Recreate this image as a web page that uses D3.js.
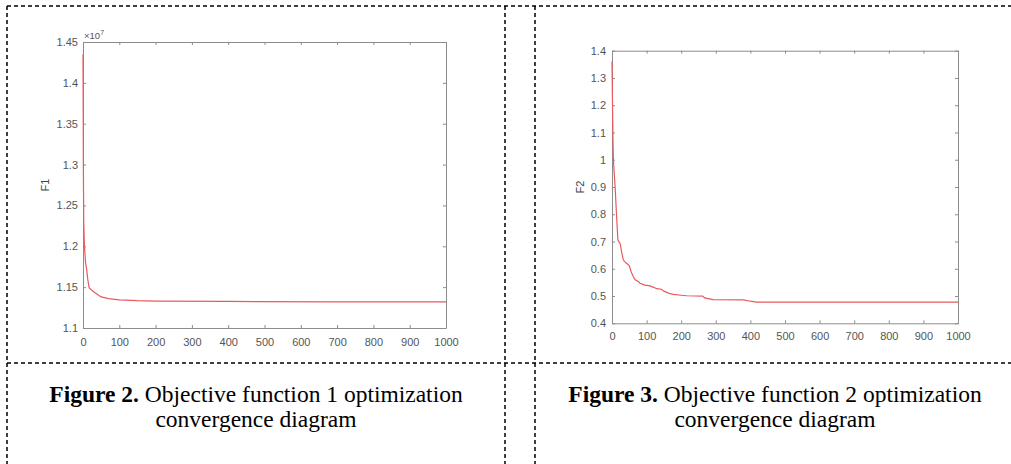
<!DOCTYPE html>
<html>
<head>
<meta charset="utf-8">
<script src="https://cdn.jsdelivr.net/npm/d3@7"></script>
<style>
  body { margin: 0; background: #fff; }
  svg { display: block; }
</style>
</head>
<body>
<script>
// x ticks shared by both panels
var xTicks = [0, 100, 200, 300, 400, 500, 600, 700, 800, 900, 1000];

// Figure 2: F1 (x 10^7) vs iteration
var iter1 = [0, 1, 2, 4, 7, 10, 13, 17, 30, 50, 70, 100, 150, 200, 400, 700, 1000];
var f1 = [1.435, 1.30, 1.23, 1.20, 1.18, 1.172, 1.16, 1.149, 1.144, 1.138, 1.136, 1.1345, 1.1335, 1.133, 1.1325, 1.132, 1.132];
var yTicks1 = [1.1, 1.15, 1.2, 1.25, 1.3, 1.35, 1.4, 1.45];

// Figure 3: F2 vs iteration
var iter2 = [0, 1, 2, 3, 4, 9, 13, 17, 20, 24, 28, 33, 40, 50, 55, 62, 67, 75, 81, 95, 110, 120, 129, 143, 150, 165, 177, 200, 216, 262, 268, 292, 380, 400, 418, 1000];
var f2 = [1.36, 1.25, 1.15, 1.06, 1.0, 0.9, 0.8, 0.705, 0.70, 0.69, 0.66, 0.632, 0.622, 0.612, 0.59, 0.57, 0.56, 0.554, 0.547, 0.54, 0.537, 0.532, 0.527, 0.525, 0.518, 0.51, 0.506, 0.503, 0.501, 0.500, 0.493, 0.487, 0.486, 0.481, 0.478, 0.478];
var yTicks2 = [0.4, 0.5, 0.6, 0.7, 0.8, 0.9, 1.0, 1.1, 1.2, 1.3, 1.4];

var captions = [
  {bold: "Figure 2.", rest: " Objective function 1 optimization", line2: "convergence diagram", cx: 256},
  {bold: "Figure 3.", rest: " Objective function 2 optimization", line2: "convergence diagram", cx: 775}
];

var W = 1011, H = 464;
var svg = d3.select("body").append("svg")
  .attr("width", W)
  .attr("height", H);

svg.append("rect").attr("width", W).attr("height", H).attr("fill", "#fff");

// dashed frame
var dash = svg.append("g")
  .attr("stroke", "#000")
  .attr("stroke-width", 1.5)
  .attr("stroke-dasharray", "4,3");
dash.append("line").attr("x1", 7).attr("x2", W).attr("y1", 6).attr("y2", 6);
dash.append("line").attr("x1", 7).attr("x2", W).attr("y1", 363).attr("y2", 363);
[7, 505, 535].forEach(function(x) {
  dash.append("line").attr("x1", x).attr("x2", x).attr("y1", 6).attr("y2", H);
});

var axisColor = "#8c8c8c", textColor = "#555";

function panel(opts) {
  var x = d3.scaleLinear().domain([0, 1000]).range([opts.left, opts.right]);
  var y = d3.scaleLinear().domain(opts.yDomain).range([opts.bottom, opts.top]);
  var g = svg.append("g");

  function style(sel) {
    sel.select(".domain").attr("stroke", axisColor);
    sel.selectAll(".tick line").attr("stroke", axisColor);
    sel.selectAll("text")
      .attr("fill", textColor)
      .style("font-family", "'Liberation Sans', Arial, sans-serif")
      .style("font-size", "11px");
  }

  g.append("g").attr("transform", "translate(0," + opts.bottom + ")")
    .call(d3.axisBottom(x).tickValues(xTicks).tickSizeInner(-3).tickSizeOuter(0).tickPadding(opts.xPad).tickFormat(d3.format("d")))
    .call(style);
  g.append("g").attr("transform", "translate(0," + opts.top + ")")
    .call(d3.axisTop(x).tickValues(xTicks).tickSizeInner(-3).tickSizeOuter(0).tickFormat(""))
    .call(style);
  g.append("g").attr("transform", "translate(" + opts.left + ",0)")
    .call(d3.axisLeft(y).tickValues(opts.yTicks).tickSizeInner(-3).tickSizeOuter(0).tickPadding(opts.yPad).tickFormat(d3.format("~g")))
    .call(style);
  g.append("g").attr("transform", "translate(" + opts.right + ",0)")
    .call(d3.axisRight(y).tickValues(opts.yTicks).tickSizeInner(-3).tickSizeOuter(0).tickFormat(""))
    .call(style);
  g.selectAll(".domain").attr("fill", "none");

  var line = d3.line()
    .x(function(d) { return x(d[0]); })
    .y(function(d) { return y(d[1]); });
  g.append("path")
    .datum(d3.zip(opts.iters, opts.values))
    .attr("fill", "none")
    .attr("stroke", "#e85a5e")
    .attr("stroke-width", 1.2)
    .attr("d", line);

  g.append("text")
    .attr("transform", "translate(" + opts.labelX + "," + ((opts.top + opts.bottom) / 2) + ") rotate(-90)")
    .attr("text-anchor", "middle")
    .attr("fill", "#444")
    .style("font-family", "'Liberation Sans', Arial, sans-serif")
    .style("font-size", "11px")
    .text(opts.label);
  return g;
}

var g1 = panel({left: 83, right: 446, top: 42, bottom: 328, yDomain: [1.1, 1.45], yTicks: yTicks1,
  iters: iter1, values: f1, label: "F1", labelX: 49, xPad: 10, yPad: 5});
var g2 = panel({left: 612, right: 958, top: 50.7, bottom: 323.3, yDomain: [0.4, 1.4], yTicks: yTicks2,
  iters: iter2, values: f2, label: "F2", labelX: 584, xPad: 8.5, yPad: 6});

// exponent label
var ex = g1.append("text")
  .attr("x", 84).attr("y", 39)
  .attr("fill", textColor)
  .style("font-family", "'Liberation Sans', Arial, sans-serif")
  .style("font-size", "9.5px");
ex.append("tspan").text("\u00d710");
ex.append("tspan").attr("dy", -4).style("font-size", "7px").text("7");

// captions, centred in their table cells
captions.forEach(function(c) {
  var t1 = svg.append("text")
    .attr("x", c.cx).attr("y", 402)
    .attr("text-anchor", "middle")
    .style("font-family", "'Liberation Serif', 'Times New Roman', serif")
    .style("font-size", "23.5px");
  t1.append("tspan").style("font-weight", "bold").text(c.bold);
  t1.append("tspan").text(c.rest);
  svg.append("text")
    .attr("x", c.cx).attr("y", 427)
    .attr("text-anchor", "middle")
    .style("font-family", "'Liberation Serif', 'Times New Roman', serif")
    .style("font-size", "23.5px")
    .text(c.line2);
});
</script>
</body>
</html>
